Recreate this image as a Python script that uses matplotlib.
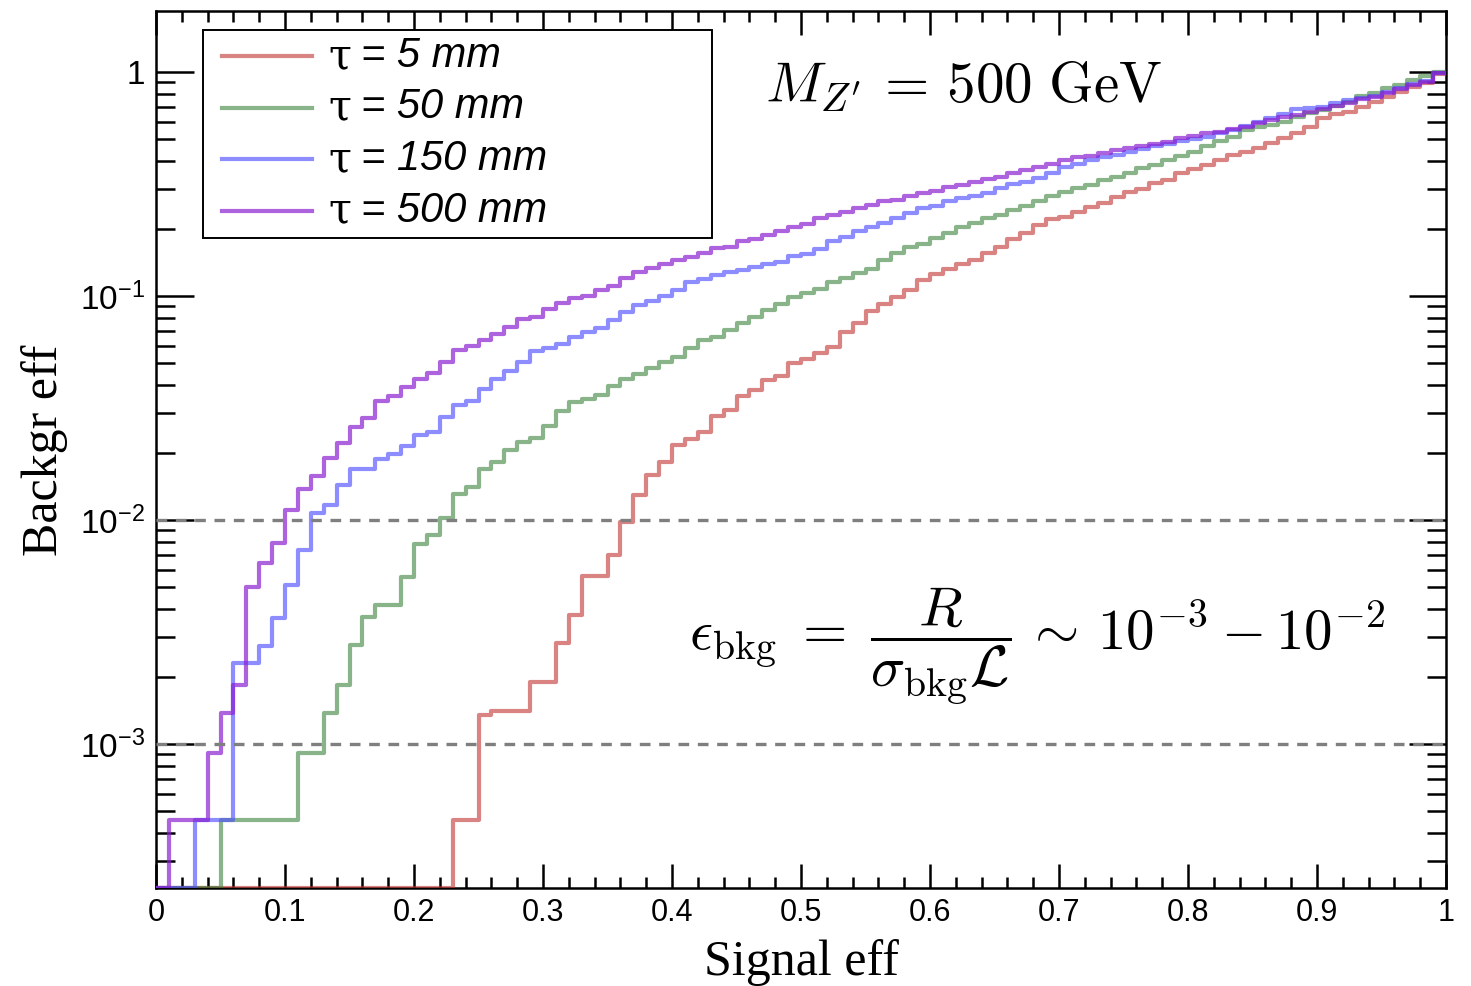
import numpy as np
import matplotlib
matplotlib.use("Agg")
import matplotlib.pyplot as plt
from matplotlib.patches import Rectangle
from matplotlib.ticker import FixedLocator, MultipleLocator, LogLocator, NullFormatter

# signal efficiency bins (0.01 wide), background efficiency per bin
edges = np.linspace(0, 1, 101)

eff_5mm = [
    0, 0, 0, 0, 0, 0, 0, 0, 0, 0,
    0, 0, 0, 0, 0, 0, 0, 0, 0, 0,
    0, 0, 0, 4.6e-4, 4.6e-4, 1.35e-3, 1.40e-3, 1.40e-3, 1.40e-3, 1.89e-3,
    1.89e-3, 2.83e-3, 3.75e-3, 5.61e-3, 5.61e-3, 6.95e-3, 9.80e-3, 1.29e-2, 1.58e-2, 1.81e-2,
    2.15e-2, 2.30e-2, 2.47e-2, 2.91e-2, 3.10e-2, 3.58e-2, 3.80e-2, 4.22e-2, 4.40e-2, 5.02e-2,
    5.23e-2, 5.55e-2, 5.94e-2, 6.93e-2, 7.55e-2, 8.60e-2, 9.21e-2, 9.93e-2, 0.106, 0.118,
    0.125, 0.132, 0.139, 0.145, 0.156, 0.166, 0.180, 0.191, 0.207, 0.220,
    0.226, 0.238, 0.250, 0.261, 0.276, 0.292, 0.300, 0.319, 0.330, 0.355,
    0.368, 0.385, 0.405, 0.424, 0.441, 0.456, 0.483, 0.506, 0.536, 0.566,
    0.621, 0.649, 0.665, 0.700, 0.737, 0.776, 0.817, 0.860, 0.896, 0.98,
]

eff_50mm = [
    0, 0, 0, 0, 0, 4.6e-4, 4.6e-4, 4.6e-4, 4.6e-4, 4.6e-4,
    4.6e-4, 9.1e-4, 9.1e-4, 1.38e-3, 1.83e-3, 2.77e-3, 3.70e-3, 4.17e-3, 4.17e-3, 5.57e-3,
    7.85e-3, 8.61e-3, 1.02e-2, 1.30e-2, 1.40e-2, 1.68e-2, 1.82e-2, 2.06e-2, 2.22e-2, 2.33e-2,
    2.62e-2, 3.08e-2, 3.36e-2, 3.47e-2, 3.61e-2, 3.97e-2, 4.26e-2, 4.49e-2, 4.77e-2, 5.09e-2,
    5.36e-2, 5.86e-2, 6.36e-2, 6.56e-2, 7.05e-2, 7.60e-2, 8.09e-2, 8.66e-2, 9.21e-2, 9.93e-2,
    0.103, 0.107, 0.116, 0.120, 0.126, 0.132, 0.145, 0.155, 0.166, 0.171,
    0.181, 0.191, 0.204, 0.212, 0.222, 0.230, 0.242, 0.252, 0.264, 0.278,
    0.292, 0.303, 0.313, 0.330, 0.341, 0.355, 0.372, 0.385, 0.405, 0.422,
    0.441, 0.467, 0.494, 0.514, 0.551, 0.566, 0.580, 0.600, 0.632, 0.654,
    0.677, 0.705, 0.737, 0.781, 0.803, 0.846, 0.875, 0.921, 0.960, 1.0,
]

eff_150mm = [
    0, 0, 0, 4.6e-4, 4.6e-4, 4.6e-4, 2.29e-3, 2.29e-3, 2.75e-3, 3.66e-3,
    5.13e-3, 7.35e-3, 1.07e-2, 1.17e-2, 1.43e-2, 1.68e-2, 1.68e-2, 1.88e-2, 1.97e-2, 2.14e-2,
    2.39e-2, 2.48e-2, 2.87e-2, 3.26e-2, 3.41e-2, 3.85e-2, 4.25e-2, 4.63e-2, 5.07e-2, 5.66e-2,
    5.86e-2, 6.13e-2, 6.56e-2, 6.87e-2, 7.20e-2, 7.81e-2, 8.51e-2, 9.12e-2, 9.53e-2, 0.100,
    0.106, 0.115, 0.119, 0.124, 0.128, 0.131, 0.135, 0.139, 0.142, 0.150,
    0.154, 0.162, 0.175, 0.184, 0.194, 0.204, 0.212, 0.222, 0.234, 0.246,
    0.252, 0.264, 0.273, 0.278, 0.289, 0.303, 0.316, 0.324, 0.335, 0.353,
    0.378, 0.388, 0.405, 0.416, 0.426, 0.441, 0.452, 0.467, 0.477, 0.494,
    0.501, 0.514, 0.532, 0.551, 0.574, 0.600, 0.621, 0.649, 0.681, 0.689,
    0.700, 0.725, 0.750, 0.763, 0.781, 0.817, 0.846, 0.884, 0.915, 0.99,
]

eff_500mm = [
    0, 4.6e-4, 4.6e-4, 4.6e-4, 9.1e-4, 1.38e-3, 1.83e-3, 5.04e-3, 6.45e-3, 7.87e-3,
    1.11e-2, 1.37e-2, 1.57e-2, 1.90e-2, 2.21e-2, 2.61e-2, 2.84e-2, 3.40e-2, 3.58e-2, 3.93e-2,
    4.26e-2, 4.53e-2, 5.07e-2, 5.74e-2, 5.98e-2, 6.36e-2, 6.77e-2, 7.27e-2, 7.89e-2, 8.06e-2,
    8.75e-2, 9.31e-2, 9.80e-2, 0.100, 0.106, 0.111, 0.120, 0.128, 0.133, 0.139,
    0.145, 0.149, 0.156, 0.164, 0.166, 0.175, 0.180, 0.187, 0.195, 0.203,
    0.210, 0.222, 0.230, 0.238, 0.246, 0.255, 0.264, 0.268, 0.278, 0.287,
    0.295, 0.306, 0.313, 0.321, 0.333, 0.341, 0.355, 0.365, 0.376, 0.388,
    0.405, 0.416, 0.422, 0.434, 0.446, 0.456, 0.467, 0.477, 0.489, 0.506,
    0.518, 0.532, 0.541, 0.558, 0.570, 0.594, 0.611, 0.631, 0.643, 0.665,
    0.681, 0.705, 0.730, 0.755, 0.776, 0.808, 0.837, 0.875, 0.905, 0.99,
]

taus = ["5", "50", "150", "500"]
series = [eff_5mm, eff_50mm, eff_150mm, eff_500mm]
colors = ["#c03030", "#3a823a", "#5050ff", "#8a1fd0"]
alphas = [0.6, 0.6, 0.65, 0.7]

ref_lines = [1e-2, 1e-3]

W, H = 1471, 986
fig = plt.figure(figsize=(W / 100, H / 100), dpi=100)
ax = fig.add_axes([156 / W, 1 - 888 / H, 1290 / W, 877 / H])

def fx(px):
    return px / W

def fy(py):
    return 1 - py / H

ylo, yhi = 10 ** -3.643, 10 ** 0.272
ax.set_yscale("log", nonpositive="clip")
ax.set_xlim(0, 1)
ax.set_ylim(ylo, yhi)

# empty bins are drawn on the axis floor, like ROOT does
for vals, c, a in zip(series, colors, alphas):
    v = np.clip(np.array(vals), ylo, None)
    ax.step(edges, np.append(v, v[-1]), where="post", color=c, alpha=a, lw=3.0, zorder=3)

for yv in ref_lines:
    ax.axhline(yv, color="#7f7f7f", lw=2.4, ls=(0, (3.2, 2.6)), zorder=4)

# ticks
tick_font = "Liberation Sans"
ax.xaxis.set_minor_locator(MultipleLocator(0.02))
ax.set_xticks(np.round(np.arange(0, 1.01, 0.1), 1))
ax.set_xticklabels(["0", "0.1", "0.2", "0.3", "0.4", "0.5", "0.6", "0.7", "0.8", "0.9", "1"],
                   fontsize=22, family=tick_font)
ax.yaxis.set_major_locator(FixedLocator([1e-3, 1e-2, 1e-1, 1]))
ax.yaxis.set_minor_locator(LogLocator(base=10, subs=np.arange(2, 10)))
ax.yaxis.set_minor_formatter(NullFormatter())
ax.set_yticklabels([r"$\mathregular{10^{-3}}$", r"$\mathregular{10^{-2}}$",
                    r"$\mathregular{10^{-1}}$", "1"], fontsize=24, family=tick_font)
ax.tick_params(axis="x", which="major", direction="in", length=17, width=1.8,
               top=True, bottom=True, pad=7)
ax.tick_params(axis="x", which="minor", direction="in", length=8, width=1.8,
               top=True, bottom=True)
ax.tick_params(axis="y", which="major", direction="in", length=27, width=1.8,
               left=True, right=True, pad=8)
ax.tick_params(axis="y", which="minor", direction="in", length=14, width=1.8,
               left=True, right=True)
for s in ax.spines.values():
    s.set_linewidth(1.8)

ax.set_xlabel("Signal eff", family="Liberation Serif", fontsize=36)
ax.set_ylabel("Backgr eff", family="Liberation Serif", fontsize=36)
ax.xaxis.set_label_coords((801 - 156) / 1290, -(975 - 888) / 877)
ax.xaxis.label.set_va("baseline")
ax.yaxis.set_label_coords(-(156 - 68) / 1290, (888 - 450) / 877)

# legend box drawn by hand
ax.add_patch(Rectangle((fx(203), fy(238)), fx(712) - fx(203), fy(30) - fy(238),
                       transform=fig.transFigure, facecolor="white", edgecolor="black",
                       lw=1.4, zorder=5))
for i, (t, c, a) in enumerate(zip(taus, colors, alphas)):
    yy = 56 + i * 51.5
    ax.plot([fx(222), fx(312)], [fy(yy), fy(yy)], transform=fig.transFigure,
            color=c, alpha=a, lw=3.0, zorder=6, clip_on=False)
    fig.text(fx(328), fy(yy), "τ", family="DejaVu Serif", fontsize=30,
             va="center", ha="left", zorder=7)
    fig.text(fx(361), fy(yy), f"= {t} mm", family="Liberation Sans", style="italic",
             fontsize=30, va="center", ha="left", zorder=7)

fig.text(fx(765), fy(102), r"$M_{Z^\prime} \,=\, 500\ \mathrm{GeV}$", fontsize=41,
         math_fontfamily="cm", va="baseline", ha="left")
fig.text(fx(689), fy(646),
         r"$\epsilon_{\mathrm{bkg}} \;=\; \dfrac{R}{\sigma_{\mathrm{bkg}}\mathcal{L}} \,\sim\, 10^{-3} - 10^{-2}$",
         fontsize=41, math_fontfamily="cm", va="center", ha="left")

fig.savefig("out.png", dpi=100)
